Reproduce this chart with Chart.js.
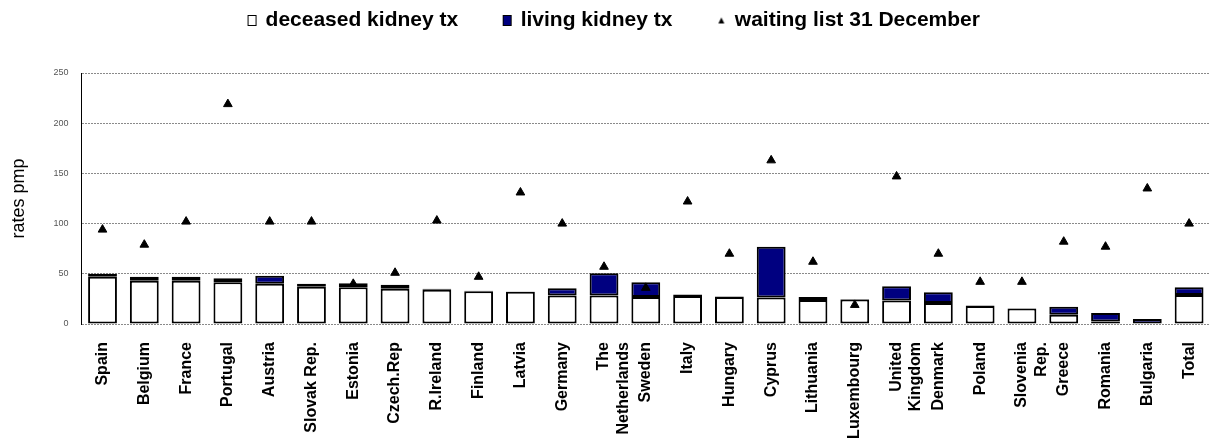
<!DOCTYPE html>
<html>
<head>
<meta charset="utf-8">
<script src="https://cdn.jsdelivr.net/npm/chart.js@4.4.0/dist/chart.umd.min.js"></script>
<style>
  body { margin: 0; background: #fff; }
  #wrap { width: 1216px; height: 445px; }
</style>
</head>
<body>
<div id="wrap"><canvas id="diagramm" width="1216" height="445"></canvas></div>
<script>
// Riigid (x-telje sildid), mitmerealised sildid massiivina
const riigid = [
    'Spain', 'Belgium', 'France', 'Portugal', 'Austria', 'Slovak Rep.', 'Estonia',
    'Czech.Rep', 'R.Ireland', 'Finland', 'Latvia', 'Germany', ['The', 'Netherlands'],
    'Sweden', 'Italy', 'Hungary', 'Cyprus', 'Lithuania', 'Luxembourg',
    ['United', 'Kingdom'], 'Denmark', 'Poland', ['Slovenia', 'Rep.'], 'Greece',
    'Romania', 'Bulgaria', 'Total'
];

// Surnud doonori siirdamised (pmp)
const surnudDoonor = [
    47, 43, 43, 41.5, 40, 37, 36.5, 35, 34, 32.5, 32, 28.5, 28.5,
    27, 28, 27, 26.5, 24, 24.5, 23.5, 21, 18, 15.5, 9.3, 2.6, 0.5, 29
];

// Elusdoonori siirdamised (pmp)
const elusDoonor = [
    3, 4, 4, 4, 8, 3, 4, 4, 1, 0.5, 0.3, 7, 22,
    14.5, 1.5, 0.5, 50.5, 3, 0.3, 14, 10.5, 0.5, 0.3, 8, 8.4, 4.5, 7.5
];

// Ootenimekiri 31. detsembri seisuga
const ootenimekiri = [
    94, 79, 102, 219, 102, 102, 40, 51, 103, 47, 131, 100, 57,
    36, 122, 70, 163, 62, 19, 147, 70, 42, 42, 82, 77, 135, 100
];

// y-telje jaotised
const yJaotised = [0, 50, 100, 150, 200, 250];

const legendiNimed = ['deceased kidney tx', 'living kidney tx', 'waiting list 31 December'];

// Legendi ikoonid väikestel lõuenditel
function teeKast(taide) {
    const c = document.createElement('canvas');
    c.width = 11; c.height = 13;
    const g = c.getContext('2d');
    g.fillStyle = taide;
    g.fillRect(1, 1, 9, 11);
    g.strokeStyle = '#000';
    g.lineWidth = 1;
    g.strokeRect(1.5, 1.5, 8, 10);
    return c;
}
function teeKolmnurk() {
    const c = document.createElement('canvas');
    c.width = 8; c.height = 8;
    const g = c.getContext('2d');
    g.fillStyle = '#000';
    g.beginPath();
    g.moveTo(4, 1); g.lineTo(7, 7); g.lineTo(1, 7);
    g.closePath();
    g.fill();
    return c;
}
const ikoonid = [teeKast('#fff'), teeKast('#000080'), teeKolmnurk()];

// Legendi kõrgus kindlaks, et joonise ala algaks õigest kohast
const legendiKorgus = {
    id: 'legendiKorgus',
    beforeInit(chart) {
        const algne = chart.legend.fit;
        chart.legend.fit = function () {
            algne.bind(chart.legend)();
            this.height = 109;
        };
    }
};

const ctx = document.getElementById('diagramm').getContext('2d');
new Chart(ctx, {
    type: 'bar',
    data: {
        labels: riigid,
        datasets: [
            {
                label: legendiNimed[0],
                data: surnudDoonor,
                backgroundColor: '#ffffff',
                borderColor: '#000000',
                borderWidth: 2,
                borderSkipped: false,
                stack: 's',
                barPercentage: 0.69,
                categoryPercentage: 1,
                order: 2
            },
            {
                label: legendiNimed[1],
                data: elusDoonor,
                backgroundColor: '#000080',
                borderColor: '#000000',
                borderWidth: 2,
                borderSkipped: false,
                stack: 's',
                barPercentage: 0.69,
                categoryPercentage: 1,
                order: 2
            },
            {
                type: 'line',
                label: legendiNimed[2],
                data: ootenimekiri,
                showLine: false,
                pointStyle: 'triangle',
                pointRadius: 5,
                pointBackgroundColor: '#000',
                pointBorderColor: '#000',
                pointBorderWidth: 1,
                order: 1
            }
        ]
    },
    options: {
        responsive: false,
        animation: false,
        layout: { padding: { left: 8, right: -5, top: -36, bottom: 0 } },
        plugins: {
            tooltip: { enabled: false },
            legend: {
                position: 'top',
                labels: {
                    usePointStyle: true,
                    pointStyleWidth: 6,
                    padding: 46,
                    color: '#000',
                    font: { family: 'Liberation Sans, Arial, sans-serif', size: 21, weight: 'bold' },
                    generateLabels: () => legendiNimed.map((nimi, i) => ({
                        text: nimi,
                        pointStyle: ikoonid[i],
                        fillStyle: '#000',
                        strokeStyle: '#000',
                        lineWidth: 0,
                        hidden: false,
                        datasetIndex: i
                    }))
                }
            }
        },
        scales: {
            x: {
                stacked: true,
                grid: { display: false },
                border: { display: false },
                afterFit: (skaala) => {
                    skaala.height = 121;
                    skaala.paddingRight = 0;
                },
                ticks: {
                    minRotation: 90,
                    maxRotation: 90,
                    autoSkip: false,
                    padding: 10,
                    color: '#000',
                    font: { family: 'Liberation Sans, Arial, sans-serif', size: 16, weight: 'bold' }
                }
            },
            y: {
                stacked: true,
                min: 0,
                max: 250,
                afterBuildTicks: (skaala) => {
                    skaala.ticks = yJaotised.map((v) => ({ value: v }));
                },
                grid: {
                    color: '#8a8a8a',
                    lineWidth: 1,
                    drawTicks: false
                },
                border: { display: true, color: '#000', width: 1, dash: [2, 1] },
                ticks: {
                    padding: 13,
                    color: '#555',
                    font: { family: 'Liberation Sans, Arial, sans-serif', size: 9 }
                },
                title: {
                    display: true,
                    text: 'rates pmp',
                    color: '#000',
                    padding: { top: 0, bottom: 11 },
                    font: { family: 'Liberation Sans, Arial, sans-serif', size: 18 }
                }
            }
        }
    },
    plugins: [legendiKorgus]
});
</script>
</body>
</html>
